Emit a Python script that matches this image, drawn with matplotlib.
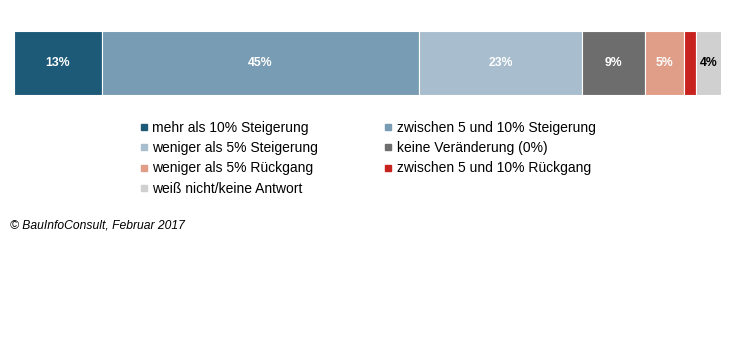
import matplotlib
matplotlib.use("Agg")
import matplotlib.pyplot as plt
from matplotlib.lines import Line2D

plt.rcParams['font.family'] = ['Liberation Sans', 'DejaVu Sans']

categories = ["mehr als 10% Steigerung", "zwischen 5 und 10% Steigerung",
              "weniger als 5% Steigerung", "keine Veränderung (0%)",
              "weniger als 5% Rückgang", "zwischen 5 und 10% Rückgang",
              "weiß nicht/keine Antwort"]
values = [12.5, 45, 23.3, 8.9, 5.5, 1.7, 3.6]
labels = ["13%", "45%", "23%", "9%", "5%", "", "4%"]
colors = ["#1d5a78", "#789cb4", "#a8bdcd", "#6d6d6d", "#e09e88", "#c8221f", "#d0d0d0"]
label_colors = ["white", "white", "white", "white", "white", "white", "black"]

fig = plt.figure(figsize=(7.3, 3.4), dpi=100)
ax = fig.add_axes([14/730, 1-95/340, (721-14)/730, 64/340])

left = 0
handles = []
for cat, v, lab, c, lc in zip(categories, values, labels, colors, label_colors):
    ax.barh(0, v, left=left, color=c, edgecolor="white", linewidth=0.8, height=1.0)
    if lab:
        ax.text(left + v/2, 0, lab, ha="center", va="center", color=lc,
                fontsize=8.8, fontweight="bold")
    left += v
    handles.append(Line2D([], [], marker="s", linestyle="none", color=c,
                          markersize=5, label=cat))

ax.set_xlim(0, sum(values))
ax.set_ylim(-0.5, 0.5)
ax.axis("off")

order = [0, 2, 4, 6, 1, 3, 5]
leg = fig.legend([handles[i] for i in order], [categories[i] for i in order],
                 ncol=2, loc="upper left", bbox_to_anchor=(133/730, 1-114/340),
                 frameon=False, fontsize=10, handlelength=0.6, handletextpad=0.3,
                 columnspacing=4.75, labelspacing=0.45, borderpad=0)

fig.text(10/730, 1-225/340, "© BauInfoConsult, Februar 2017", fontsize=8.7,
         style="italic", va="center", ha="left")

fig.savefig("out.png", dpi=100)
